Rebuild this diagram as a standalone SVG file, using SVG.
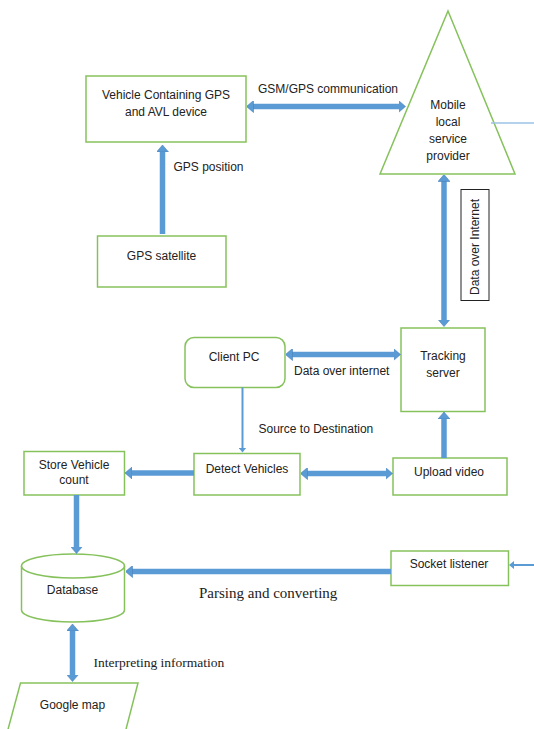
<svg xmlns="http://www.w3.org/2000/svg" width="534" height="729" viewBox="0 0 534 729">
<style>
.box{fill:#fff;stroke:#86c25c;stroke-width:1.5}
.t{font-family:"Liberation Sans",Arial,sans-serif;font-size:12px;fill:#222;text-anchor:middle}
.tl{font-family:"Liberation Sans",Arial,sans-serif;font-size:12px;fill:#222}
.s{font-family:"Liberation Serif","Times New Roman",serif;fill:#222}
.thick{stroke:#5b9bd5;stroke-width:5.5;fill:none}
.thin{stroke:#5b9bd5;stroke-width:2;fill:none}
</style>
<defs>
<marker id="h" viewBox="0 0 7 12" markerWidth="7" markerHeight="12" refX="0.5" refY="6" markerUnits="userSpaceOnUse" orient="auto-start-reverse">
<path d="M0,0 L7,6 L0,12 z" fill="#5b9bd5" stroke="#4a80b8" stroke-width="0.6"/>
</marker>
<marker id="hs" viewBox="0 0 5 8" markerWidth="5" markerHeight="8" refX="0.5" refY="4" markerUnits="userSpaceOnUse" orient="auto-start-reverse">
<path d="M0,0 L5,4 L0,8 z" fill="#5b9bd5"/>
</marker>
</defs>
<rect width="534" height="729" fill="#fff"/>

<g id="vehicle">
<rect class="box" x="86" y="76" width="160" height="66"/>
<text class="t" x="166" y="98.5">Vehicle Containing GPS</text>
<text class="t" x="166" y="116">and AVL device</text>
</g>
<g id="mobile">
<polygon class="box" points="448,11 515,174 380,174"/>
<text class="t" x="448" y="109">Mobile</text>
<text class="t" x="448" y="126">local</text>
<text class="t" x="448" y="143">service</text>
<text class="t" x="448" y="160">provider</text>
</g>
<g id="gps">
<rect class="box" x="97.5" y="236" width="128.5" height="51"/>
<text class="t" x="161.5" y="260">GPS satellite</text>
</g>
<g id="data-label">
<rect x="461" y="189.5" width="28" height="111" fill="#fff" stroke="#222" stroke-width="1"/>
<text class="t" transform="translate(475,247) rotate(-90)" x="0" y="4">Data over Internet</text>
</g>
<g id="tracking">
<rect class="box" x="401" y="328" width="84" height="83.5"/>
<text class="t" x="443" y="360">Tracking</text>
<text class="t" x="443" y="376.5">server</text>
</g>
<g id="client">
<rect class="box" x="185" y="337.5" width="100" height="50" rx="9"/>
<text class="t" x="234" y="361">Client PC</text>
</g>
<g id="store">
<rect class="box" x="24" y="451.5" width="100.5" height="43.5"/>
<text class="t" x="74" y="468.6">Store Vehicle</text>
<text class="t" x="74" y="484">count</text>
</g>
<g id="detect">
<rect class="box" x="194" y="453.5" width="106" height="41.5"/>
<text class="t" x="247" y="473">Detect Vehicles</text>
</g>
<g id="upload">
<rect class="box" x="393" y="458" width="114" height="37"/>
<text class="t" x="449" y="475.5">Upload video</text>
</g>
<g id="database">
<path class="box" d="M21.5,566 L21.5,610 A51.5,12 0 0 0 124.5,610 L124.5,566"/>
<ellipse class="box" cx="73" cy="566" rx="51.5" ry="12"/>
<text class="t" x="72.5" y="594">Database</text>
</g>
<g id="socket">
<rect class="box" x="391" y="551" width="117.5" height="34.5"/>
<text class="t" x="449" y="568">Socket listener</text>
</g>
<g id="google">
<polygon class="box" points="20.5,683 138,683 124.5,735 6.5,735"/>
<text class="t" x="72.5" y="709">Google map</text>
</g>

<g id="connectors">
<line class="thick" x1="253" y1="106.5" x2="399" y2="106.5" marker-start="url(#h)" marker-end="url(#h)"/>
<line class="thick" x1="162.5" y1="234" x2="162.5" y2="151.5" marker-end="url(#h)"/>
<line class="thick" x1="444" y1="181" x2="444" y2="320" marker-start="url(#h)" marker-end="url(#h)"/>
<line class="thick" x1="292" y1="354.5" x2="394" y2="354.5" marker-start="url(#h)" marker-end="url(#h)"/>
<line class="thin" x1="242.5" y1="387.5" x2="242.5" y2="448" marker-end="url(#hs)"/>
<line class="thick" x1="194" y1="473" x2="131.5" y2="473" marker-end="url(#h)"/>
<line class="thick" x1="307" y1="473.5" x2="386" y2="473.5" marker-start="url(#h)" marker-end="url(#h)"/>
<line class="thick" x1="444" y1="458" x2="444" y2="418.5" marker-end="url(#h)"/>
<line class="thick" x1="76.5" y1="495" x2="76.5" y2="547" marker-end="url(#h)"/>
<line class="thick" x1="391" y1="571.5" x2="132" y2="571.5" marker-end="url(#h)"/>
<line class="thin" x1="534" y1="565" x2="513.5" y2="565" marker-end="url(#hs)"/>
<line class="thick" x1="72.5" y1="630.5" x2="72.5" y2="675" marker-start="url(#h)" marker-end="url(#h)"/>
<line x1="491" y1="123" x2="534" y2="123" stroke="#9dc3e6" stroke-width="1.5"/>
</g>

<g id="labels">
<text class="t" x="328" y="93">GSM/GPS communication</text>
<text class="tl" x="173.5" y="171">GPS position</text>
<text class="tl" x="294" y="374.5">Data over internet</text>
<text class="tl" x="258.5" y="432.6">Source to Destination</text>
<text class="s" x="199" y="597.5" font-size="15">Parsing and converting</text>
<text class="s" x="93.5" y="666.5" font-size="13.5">Interpreting information</text>
</g>
</svg>
